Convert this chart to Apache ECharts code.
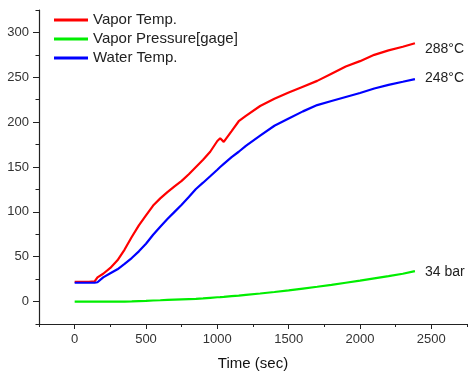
<!DOCTYPE html>
<html>
<head>
<meta charset="utf-8">
<script src="https://cdn.jsdelivr.net/npm/echarts@6/dist/echarts.min.js"></script>
<style>
  html, body { margin: 0; padding: 0; background: #fff; }
  #chart { width: 468px; height: 376px; }
</style>
</head>
<body>
<div id="chart"></div>
<script>
// time in seconds
const times = [0, 100, 140, 160, 200, 250, 300, 350, 400, 450, 500, 550, 600, 650, 700, 750, 800, 850, 900, 950,
  1000, 1020, 1045, 1100, 1150, 1200, 1300, 1400, 1500, 1600, 1700, 1800, 1900, 2000, 2100, 2200, 2300, 2385];
const vaporTemp = [22, 22, 22.5, 27, 31, 37.5, 46, 58, 72, 85, 96, 107, 115, 122, 128.5, 134.5, 142, 150, 158, 167,
  179, 182, 178, 190, 201, 207, 218, 226, 233, 239.5, 246, 254, 262, 268, 275, 280, 284, 288];
const vaporPressure = [0, 0, 0, 0, 0, 0, 0, 0, 0.2, 0.5, 0.8, 1.2, 1.5, 1.9, 2.2, 2.5, 2.8, 3.1, 3.6, 4.2,
  4.8, 5, 5.3, 6, 6.6, 7.4, 9, 10.7, 12.5, 14.5, 16.5, 18.6, 21, 23.3, 25.8, 28.3, 31, 34];
const waterTemp = [21, 21, 21, 21.5, 27, 31.5, 36, 42, 48.5, 56, 64.5, 74.5, 83.5, 92, 100, 108, 116.5, 125.5, 132.5, 139.7,
  147, 150, 153.5, 161, 167, 173.5, 185, 196, 204, 212, 219, 223.5, 228, 232.5, 237.5, 241.5, 245, 248];

const seriesNames = ['Vapor Temp.', 'Vapor Pressure[gage]', 'Water Temp.'];
const endLabels = ['288°C', '34 bar', '248°C'];

const xTicks = [0, 500, 1000, 1500, 2000, 2500];
const xMinorTicks = [-250, 250, 750, 1250, 1750, 2250, 2750];
const yTicks = [0, 50, 100, 150, 200, 250, 300];
const yMinorTicks = [-25, 25, 75, 125, 175, 225, 275, 325];

const chart = echarts.init(document.getElementById('chart'));

const font = 'Arial, "Liberation Sans", sans-serif';
const axisColor = '#222';

function pairs(vals) {
  return times.map((t, i) => [t, vals[i]]);
}

function lineSeries(name, vals, color, label, offsetY) {
  return {
    name: name,
    type: 'line',
    data: pairs(vals),
    showSymbol: false,
    symbol: 'none',
    lineStyle: { color: color, width: 2.2 },
    itemStyle: { color: color },
    endLabel: {
      show: true,
      formatter: label,
      distance: 10,
      offset: [0, offsetY],
      color: '#222',
      fontFamily: font,
      fontSize: 14
    },
    z: 3
  };
}

const option = {
  animation: false,
  grid: { left: 39, right: 1, top: 10, bottom: 51 },
  legend: {
    orient: 'vertical',
    left: 49,
    top: 7,
    itemWidth: 34,
    itemHeight: 3,
    itemGap: 3,
    icon: 'rect',
    data: seriesNames,
    textStyle: { fontFamily: font, fontSize: 15, color: '#222', lineHeight: 16 }
  },
  xAxis: [
    {
      type: 'value',
      min: -250,
      max: 2750,
      name: 'Time (sec)',
      nameLocation: 'middle',
      nameGap: 32,
      nameTextStyle: { fontFamily: font, fontSize: 15, color: '#111' },
      axisLine: { show: true, onZero: false, lineStyle: { color: axisColor, width: 1.2 } },
      axisTick: { show: true, length: 5, customValues: xTicks, lineStyle: { color: axisColor } },
      axisLabel: { customValues: xTicks, margin: 9, fontFamily: font, fontSize: 13, color: '#333',
        formatter: v => String(v) },
      splitLine: { show: false }
    },
    {
      type: 'value',
      min: -250,
      max: 2750,
      position: 'bottom',
      axisLine: { show: false, onZero: false },
      axisTick: { show: true, length: 3, customValues: xMinorTicks, lineStyle: { color: axisColor } },
      axisLabel: { show: false },
      splitLine: { show: false }
    }
  ],
  yAxis: [
    {
      type: 'value',
      min: -25,
      max: 325,
      axisLine: { show: true, onZero: false, lineStyle: { color: axisColor, width: 1.2 } },
      axisTick: { show: true, length: 6, customValues: yTicks, lineStyle: { color: axisColor } },
      axisLabel: { customValues: yTicks, margin: 10, fontFamily: font, fontSize: 13, color: '#333',
        formatter: v => String(v) },
      splitLine: { show: false }
    },
    {
      type: 'value',
      min: -25,
      max: 325,
      position: 'left',
      axisLine: { show: false, onZero: false },
      axisTick: { show: true, length: 3.5, customValues: yMinorTicks, lineStyle: { color: axisColor } },
      axisLabel: { show: false },
      splitLine: { show: false }
    }
  ],
  series: [
    lineSeries(seriesNames[0], vaporTemp, '#ff0000', endLabels[0], 6),
    lineSeries(seriesNames[1], vaporPressure, '#00ee00', endLabels[1], 1),
    lineSeries(seriesNames[2], waterTemp, '#0000ff', endLabels[2], -1)
  ]
};

chart.setOption(option);
</script>
</body>
</html>
